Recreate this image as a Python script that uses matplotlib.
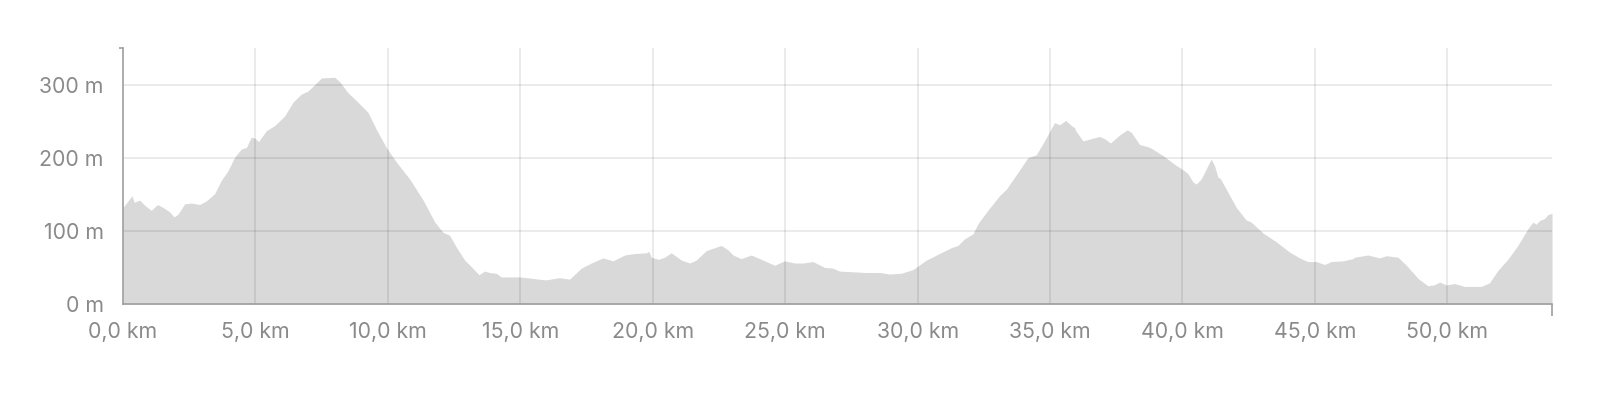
import matplotlib.pyplot as plt

# Höhenprofil: Distanz (km) und Höhe (m)
distanz = [0.00, 0.34, 0.42, 0.63, 0.82, 1.07, 1.30, 1.51, 1.76, 1.93, 2.08, 2.33, 2.60, 2.89,
           3.15, 3.46, 3.71, 3.96, 4.22, 4.47, 4.66, 4.84, 4.97, 5.12, 5.41, 5.73, 6.10, 6.42,
           6.73, 6.98, 7.24, 7.49, 7.99, 8.18, 8.49, 8.81, 9.25, 9.56, 9.94, 10.32, 10.82,
           11.33, 11.77, 12.08, 12.33, 12.58, 12.90, 13.15, 13.44, 13.65, 13.84, 14.09, 14.28,
           14.97, 15.48, 15.67, 15.98, 16.48, 16.86, 17.30, 17.68, 18.12, 18.50, 18.94, 19.32,
           19.76, 19.85, 19.94, 20.22, 20.45, 20.70, 21.08, 21.39, 21.64, 22.02, 22.34, 22.59,
           22.84, 23.03, 23.34, 23.72, 24.16, 24.60, 24.98, 25.36, 25.67, 26.05, 26.49, 26.80,
           27.05, 27.56, 28.06, 28.57, 28.94, 29.38, 29.82, 30.33, 30.77, 31.27, 31.52, 31.77,
           32.09, 32.28, 32.65, 33.09, 33.35, 33.79, 34.16, 34.48, 34.79, 35.17, 35.36, 35.59,
           35.80, 35.93, 35.95, 36.24, 36.55, 36.87, 37.06, 37.28, 37.62, 37.91, 38.06, 38.38,
           38.69, 38.82, 39.26, 39.70, 40.08, 40.21, 40.39, 40.52, 40.71, 40.90, 41.08, 41.21,
           41.34, 41.42, 41.71, 42.03, 42.40, 42.59, 43.04, 43.54, 44.04, 44.42, 44.73, 45.05,
           45.36, 45.61, 46.06, 46.43, 46.50, 47.00, 47.44, 47.69, 48.13, 48.45, 48.89, 49.26,
           49.49, 49.71, 49.96, 50.27, 50.65, 50.96, 51.28, 51.59, 51.91, 52.28, 52.66, 53.04,
           53.23, 53.35, 53.48, 53.67, 53.79, 53.95]
hoehe = [132, 148, 139, 142, 135, 128, 136, 132, 126, 119, 123, 137, 138, 136,
         141, 151, 169, 182, 201, 212, 214, 228, 227, 222, 237, 244, 257, 276,
         287, 291, 300, 309, 310, 304, 289, 278, 262, 239, 214, 194, 171,
         142, 112, 98, 94, 78, 60, 51, 40, 45, 43, 42, 37,
         37, 35, 34, 33, 36, 34, 49, 56, 63, 59, 67, 69,
         70, 72, 64, 61, 64, 70, 60, 56, 60, 73, 77, 80,
         74, 67, 62, 67, 60, 53, 59, 56, 56, 58, 50, 49,
         45, 44, 43, 43, 41, 42, 47, 60, 68, 77, 80, 89,
         96, 110, 128, 148, 157, 180, 200, 204, 223, 248, 245, 251,
         244, 241, 238, 223, 226, 229, 226, 220, 231, 238, 235, 218,
         215, 213, 203, 191, 182, 178, 167, 164, 171, 185, 198, 189,
         173, 172, 153, 132, 115, 112, 97, 85, 71, 63, 58, 58,
         54, 58, 59, 62, 64, 67, 63, 66, 64, 53, 35, 25,
         26, 30, 26, 28, 24, 24, 24, 29, 46, 61, 80, 103,
         112, 109, 114, 117, 122, 124]

x_ticks = [5, 10, 15, 20, 25, 30, 35, 40, 45, 50]
x_labels = ['0,0 km', '5,0 km', '10,0 km', '15,0 km', '20,0 km', '25,0 km',
            '30,0 km', '35,0 km', '40,0 km', '45,0 km', '50,0 km']
y_ticks = [100, 200, 300]
y_labels = ['0 m', '100 m', '200 m', '300 m']

achse = '#9e9e9e'
text = '#8a8a8a'
plt.rcParams['font.family'] = ['Inter', 'DejaVu Sans']

fig = plt.figure(figsize=(15.98, 4.12), dpi=100)
ax = fig.add_axes([123 / 1598, 1 - 304 / 412, 1429 / 1598, 256 / 412])

ax.fill_between(distanz, hoehe, 0, color='#d9d9d9', lw=0, zorder=1)

# Gitter über der Fläche, halbtransparent
for x in x_ticks:
    ax.axvline(x, color='black', alpha=0.08, lw=1.4, zorder=2)
for y in y_ticks:
    ax.axhline(y, color='black', alpha=0.08, lw=1.4, zorder=2)

ax.set_xlim(0, distanz[-1])
ax.set_ylim(0, 350)

ax.set_xticks([0] + x_ticks)
ax.set_xticklabels(x_labels)
ax.set_yticks([0] + y_ticks)
ax.set_yticklabels(y_labels)
ax.tick_params(axis='both', which='major', length=0, labelsize=15.3, labelcolor=text)
ax.tick_params(axis='x', pad=13)
ax.tick_params(axis='y', pad=14)

# Endmarken der Achsen
ax.set_xticks([0, distanz[-1]], minor=True)
ax.set_yticks([0], minor=True)
ax.tick_params(which='minor', length=8.6, width=1.2, color=achse, direction='out')
ax.plot([-0.003, 0], [1, 1], transform=ax.transAxes, color=achse, lw=1.2,
        clip_on=False, solid_capstyle='butt')

for s in ['top', 'right']:
    ax.spines[s].set_visible(False)
for s in ['left', 'bottom']:
    ax.spines[s].set_color(achse)
    ax.spines[s].set_linewidth(1.2)
    ax.spines[s].set_zorder(3)

fig.savefig('out.png', dpi=100)
